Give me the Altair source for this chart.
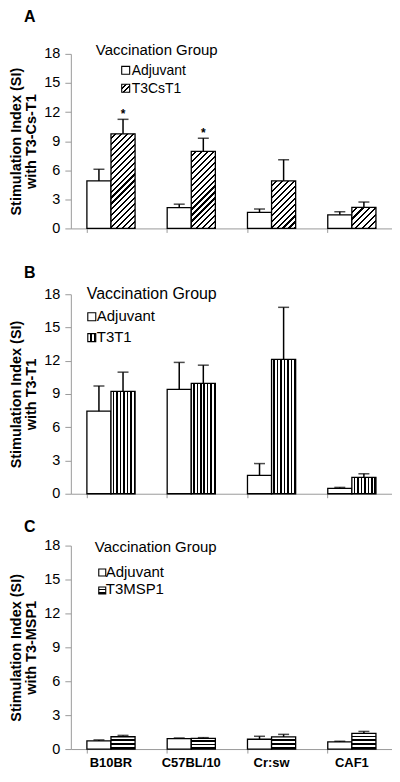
import math
import altair as alt
import pandas as pd

# ---------------- data ----------------
strains = ["B10BR", "C57BL/10", "Cr:sw", "CAF1"]
y_ticks = [0, 3, 6, 9, 12, 15, 18]

adjuvant_a = [4.9, 2.15, 1.65, 1.4]
adjuvant_a_upper = [6.1, 2.5, 2.0, 1.72]
t3cst1 = [9.75, 7.95, 4.9, 2.18]
t3cst1_upper = [11.25, 9.3, 7.08, 2.72]
stars_a = ["*", "*", "", ""]

adjuvant_b = [7.45, 9.42, 1.66, 0.48]
adjuvant_b_upper = [9.72, 11.85, 2.72, 0.57]
t3t1 = [9.24, 9.95, 12.12, 1.48]
t3t1_upper = [10.97, 11.6, 16.82, 1.8]
stars_b = ["", "", "", ""]

adjuvant_c = [0.72, 0.92, 0.87, 0.63]
adjuvant_c_upper = [0.81, 0.98, 1.13, 0.69]
t3msp1 = [1.09, 0.95, 1.07, 1.39]
t3msp1_upper = [1.21, 1.01, 1.3, 1.56]
stars_c = ["", "", "", ""]

FONT = "Liberation Sans"
AXIS_GRAY = "#9a9a9a"
WIDTH = 322
PAD_INNER, PAD_OUTER = 0.40, 0.20
BAR_W = WIDTH / (4 - PAD_INNER + 2 * PAD_OUTER) * (1 - PAD_INNER) / 2


def stripe_stops(n, dark):
    stops = []
    for k in range(n):
        a = k / n
        b = (k + 1 - dark) / n
        c = (k + 1) / n
        stops += [
            alt.GradientStop(color="white", offset=a),
            alt.GradientStop(color="white", offset=b),
            alt.GradientStop(color="black", offset=b),
            alt.GradientStop(color="black", offset=c),
        ]
    return stops


def pattern_fill(kind, w, h):
    h = max(h, 1.0)
    if kind == "diag":
        a = (w + h) / (w * w + h * h)
        n = max(2, round((w + h) / math.sqrt(2) / 4.3))
        return alt.LinearGradient(gradient="linear", stops=stripe_stops(n, 0.36),
                                  x1=0, y1=0, x2=a * w, y2=a * h)
    if kind == "vert":
        n = max(2, round(w / 3.4))
        return alt.LinearGradient(gradient="linear", stops=stripe_stops(n, 0.45),
                                  x1=0, y1=0, x2=1, y2=0)
    n = max(2, round(h / 3.6))
    return alt.LinearGradient(gradient="linear", stops=stripe_stops(n, 0.45),
                              x1=0, y1=0, x2=0, y2=1)


def panel(letter, treat, adj, adj_up, tr, tr_up, stars, ytitle, kind,
          view_h, range_top, letter_y, leg, show_labels, label_pad=1):
    rows = []
    for i, s in enumerate(strains):
        rows.append(dict(strain=s, group="Adjuvant", value=adj[i], upper=adj_up[i], star=""))
        rows.append(dict(strain=s, group=treat, value=tr[i], upper=tr_up[i], star=stars[i]))
    df = pd.DataFrame(rows)

    px_per_unit = (view_h - range_top) / 18.0

    y_scale = alt.Scale(domain=[0, 18], range=[view_h, range_top], nice=False, zero=True)
    x_axis = alt.Axis(title=None, labels=show_labels, bandPosition=0, tickSize=4,
                      labelAngle=0, labelFontSize=13, labelFontWeight="bold",
                      labelColor="black", labelPadding=label_pad, domainColor=AXIS_GRAY,
                      tickColor=AXIS_GRAY, labelFont=FONT)
    y_axis = alt.Axis(values=y_ticks, title=ytitle, titleFontSize=14.5,
                      titleFontWeight="bold", titleLineHeight=15, titlePadding=5,
                      titleColor="black", titleFont=FONT,
                      labelFontSize=14.5, labelColor="black", labelFont=FONT,
                      tickSize=6, labelPadding=5, domainColor=AXIS_GRAY,
                      tickColor=AXIS_GRAY, grid=False)

    def Y(field):
        return alt.Y(field, scale=y_scale, axis=y_axis, title=ytitle)

    base = alt.Chart(df).encode(
        x=alt.X("strain:N", sort=strains,
                scale=alt.Scale(type="band", domain=strains,
                                paddingInner=PAD_INNER, paddingOuter=PAD_OUTER),
                axis=x_axis),
    )

    layers = []
    for gname, shift in (("Adjuvant", -BAR_W / 2), (treat, BAR_W / 2)):
        sub = base.transform_filter(alt.datum.group == gname)
        if gname == "Adjuvant":
            layers.append(
                sub.mark_bar(fill="white", stroke="black", strokeWidth=1.3,
                             width=BAR_W, xOffset=shift)
                .encode(y=Y("value:Q"))
            )
        else:
            for i, s in enumerate(strains):
                layers.append(
                    base.transform_filter((alt.datum.group == gname) & (alt.datum.strain == s))
                    .mark_bar(fill=pattern_fill(kind, BAR_W, tr[i] * px_per_unit),
                              stroke="black", strokeWidth=1.3, width=BAR_W, xOffset=shift)
                    .encode(y=Y("value:Q"))
                )
        layers.append(
            sub.mark_rule(color="black", strokeWidth=1.5, xOffset=shift)
            .encode(y=Y("value:Q"), y2="upper:Q")
        )
        layers.append(
            sub.mark_tick(color="black", thickness=1.5, size=11, xOffset=shift)
            .encode(y=Y("upper:Q"))
        )
        layers.append(
            sub.mark_text(fontSize=12, fontWeight="bold", baseline="alphabetic", dy=-1,
                          xOffset=shift, color="black", font=FONT)
            .encode(y=Y("upper:Q"), text="star:N")
        )

    # panel letter
    layers.append(
        alt.Chart(pd.DataFrame({"t": [letter]}))
        .mark_text(fontSize=16, fontWeight="bold", align="left", baseline="top",
                   color="black", font=FONT)
        .encode(x=alt.value(-47), y=alt.value(letter_y), text="t:N")
    )

    # legend (manual)
    lt = leg
    layers.append(
        alt.Chart(pd.DataFrame({"t": ["Vaccination Group"]}))
        .mark_text(fontSize=lt["title_size"], align="left", baseline="alphabetic",
                   color="black", font=FONT)
        .encode(x=alt.value(lt["title_x"]), y=alt.value(lt["title_y"]), text="t:N")
    )
    names = ["Adjuvant", treat]
    for j, name in enumerate(names):
        ybase = lt["rows"][j]
        sq = lt["sq"]
        fill = "white" if j == 0 else pattern_fill(kind, sq, sq)
        layers.append(
            alt.Chart(pd.DataFrame({"t": [name]}))
            .mark_rect(fill=fill, stroke="black", strokeWidth=1.1)
            .encode(x=alt.value(lt["sq_x"]), x2=alt.value(lt["sq_x"] + sq),
                    y=alt.value(ybase - sq - 0.5), y2=alt.value(ybase - 0.5))
        )
        layers.append(
            alt.Chart(pd.DataFrame({"t": [name]}))
            .mark_text(fontSize=lt["item_size"], align="left", baseline="alphabetic",
                       color="black", font=FONT)
            .encode(x=alt.value(lt["text_x"]), y=alt.value(ybase), text="t:N")
        )

    return alt.layer(*layers).properties(width=WIDTH, height=view_h)


chart_a = panel("A", "T3CsT1", adjuvant_a, adjuvant_a_upper, t3cst1, t3cst1_upper, stars_a,
                ["Stimulation Index (SI)", "with T3-Cs-T1"], "diag",
                view_h=220, range_top=45, letter_y=0,
                leg=dict(title_x=25, title_y=46, title_size=15, sq_x=51, sq=8,
                         text_x=61, rows=[66, 84], item_size=14),
                show_labels=False)

chart_b = panel("B", "T3T1", adjuvant_b, adjuvant_b_upper, t3t1, t3t1_upper, stars_b,
                ["Stimulation Index (SI)", "with T3-T1"], "vert",
                view_h=266, range_top=66, letter_y=37,
                leg=dict(title_x=16, title_y=71, title_size=16, sq_x=17, sq=8,
                         text_x=26, rows=[93, 114], item_size=15),
                show_labels=False)

chart_c = panel("C", "T3MSP1", adjuvant_c, adjuvant_c_upper, t3msp1, t3msp1_upper, stars_c,
                ["Stimulation Index (SI)", "with T3-MSP1"], "horiz",
                view_h=256, range_top=52, letter_y=25,
                leg=dict(title_x=24, title_y=58, title_size=15, sq_x=28, sq=7,
                         text_x=35, rows=[83, 101], item_size=15),
                show_labels=True, label_pad=3)

chart = (
    alt.vconcat(chart_a, chart_b, chart_c, spacing=0, bounds="flush")
    .properties(padding=0, background="white",
                autosize=alt.AutoSizeParams(type="pad"))
    .configure(font=FONT, padding=0)
    .configure_view(stroke=None)
)

chart.save("out.html", embed_options={"renderer": "svg", "actions": False})
